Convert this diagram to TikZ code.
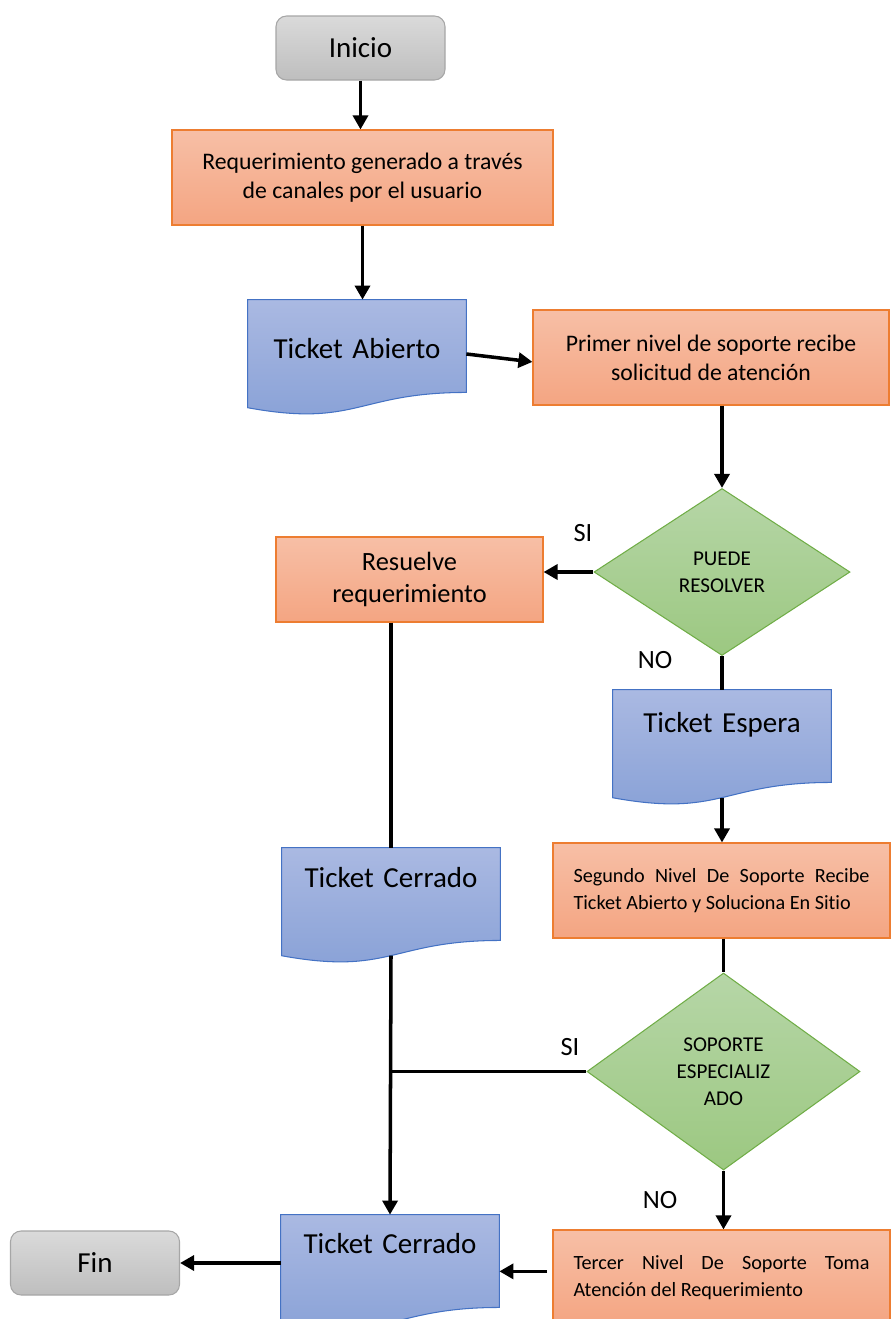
\documentclass[tikz,border=0pt]{standalone}
\usepackage{fontspec}
\setmainfont{Carlito}[Ligatures=NoCommon]
\usepackage{tikz}
\usetikzlibrary{shapes,arrows.meta,positioning,calc,backgrounds}
\definecolor{boxOrange}{RGB}{247,191,166}
\definecolor{boxOrangeDark}{RGB}{244,165,130}
\definecolor{lineOrange}{RGB}{237,125,49}
\definecolor{docBlue}{RGB}{170,185,226}
\definecolor{docBlueDark}{RGB}{135,160,214}
\definecolor{lineBlue}{RGB}{68,114,196}
\definecolor{decGreen}{RGB}{182,214,167}
\definecolor{decGreenDark}{RGB}{156,200,129}
\definecolor{lineGreen}{RGB}{112,173,71}
\definecolor{termGray}{RGB}{218,218,218}
\definecolor{termGrayDark}{RGB}{190,190,190}
\definecolor{lineGray}{RGB}{166,166,166}

% wavy document outline behind a ticket node, plus (name-w) at the middle of the wave
\newcommand{\docwave}[1]{%
  \draw[draw=lineBlue,line width=0.6pt,top color=docBlue,bottom color=docBlueDark]
    (#1.north west) -- (#1.north east)
    -- ($(#1.north east)!0.802!(#1.south east)$)
    .. controls ($(#1.north)!0.802!(#1.south)$) and ($(#1.north)!1.107!(#1.south)$)
    .. ($(#1.north west)!0.934!(#1.south west)$) -- cycle;
  \coordinate (#1-w) at ($(#1.north)!0.933!(#1.south)$);}

\begin{document}
\begin{tikzpicture}[
    term/.style={rounded corners=6pt,draw=lineGray,line width=0.6pt,top color=termGray,bottom color=termGrayDark,
                 minimum width=3.38cm,minimum height=1.28cm,font=\fontsize{16.5}{20}\selectfont},
    proc/.style={draw=lineOrange,line width=0.6pt,top color=boxOrange,bottom color=boxOrangeDark,
                 align=center,font=\fontsize{13.5}{16.4}\selectfont},
    notetext/.style={align=justify,text width=5.92cm,font=\fontsize{11.5}{15.6}\selectfont},
    ticket/.style={inner sep=0pt,text width=4.36cm,align=center,text height=#1,text depth=2.3cm-#1,
                   font=\fontsize{16.5}{20}\selectfont},
    decision/.style={diamond,draw=lineGreen,line width=0.6pt,top color=decGreen,bottom color=decGreenDark,
                     inner sep=0pt,align=center,font=\fontsize{12}{15.3}\selectfont},
    flow/.style={line width=2pt,-{Triangle[length=8pt,width=8.5pt]}},
    link/.style={line width=2pt},
    answer/.style={font=\fontsize{15}{18}\selectfont}
]
    \useasboundingbox (0,0) rectangle (17.8,-26.38);

    \node[term] (inicio) at (7.21,-0.96) {Inicio};
    \node[proc,minimum width=7.62cm,minimum height=1.9cm] (req) at (7.25,-3.55)
        {Requerimiento generado a través\\de canales por el usuario};
    \node[ticket=1.16cm] (abierto) at (7.14,-7.15) {Ticket Abierto};
    \node[proc,minimum width=7.12cm,minimum height=1.9cm] (primer) at (14.22,-7.15)
        {Primer nivel de soporte recibe\\solicitud de atención};
    \node[decision,minimum width=5.12cm,minimum height=3.34cm] (puede) at (14.44,-11.44) {PUEDE\\RESOLVER};
    \node[proc,minimum width=5.34cm,minimum height=1.7cm,font=\fontsize{15}{18}\selectfont] (resuelve) at (8.19,-11.59)
        {Resuelve\\requerimiento};
    \node[ticket=0.84cm] (espera) at (14.44,-14.95) {Ticket Espera};
    \node[proc,notetext,minimum width=6.74cm,minimum height=1.9cm] (segundo) at (14.43,-17.81)
        {Segundo Nivel De Soporte Recibe\linebreak Ticket Abierto y Soluciona En Sitio};
    \node[ticket=0.78cm] (cerrado) at (7.82,-18.11) {Ticket Cerrado};
    \node[decision,minimum width=5.46cm,minimum height=3.94cm] (soporte) at (14.47,-21.43) {SOPORTE\\ESPECIALIZ\\ADO};
    \node[ticket=0.76cm] (cerradofin) at (7.8,-25.45) {Ticket Cerrado};
    \node[proc,notetext,minimum width=6.74cm,minimum height=1.9cm] (tercer) at (14.43,-25.55)
        {Tercer Nivel De Soporte Toma\linebreak Atención del Requerimiento};
    \node[term] (fin) at (1.9,-25.26) {Fin};

    \begin{scope}[on background layer]
        \docwave{abierto}
        \docwave{espera}
        \docwave{cerrado}
        \docwave{cerradofin}
    \end{scope}

    % answers
    \node[answer] (si1) at (11.66,-10.66) {SI};
    \node[answer] (no1) at (13.1,-13.2) {NO};
    \node[answer] (si2) at (11.4,-20.94) {SI};
    \node[answer] (no2) at (13.2,-24.0) {NO};

    \draw[flow] (inicio.south) -- (inicio.south |- req.north);
    \draw[flow] (req.south) -- (req.south |- abierto.north);
    \draw[flow] ([yshift=2pt]abierto.east) -- ([yshift=-2.5pt]primer.west);
    \draw[flow] (puede.north |- primer.south) -- (puede.north);
    \draw[flow] (puede.west) -- (puede.west -| resuelve.east);
    \draw[link] (puede.south) -- (espera.north);
    \draw[flow] (espera-w) -- (espera-w |- segundo.north);
    \draw[link] (resuelve.south -| cerrado.north) -- (cerrado.north);
    \draw[link] (segundo.south -| soporte.north) -- (soporte.north);
    \draw[link] (soporte.west) -- (soporte.west -| cerrado.south);
    \draw[flow] (cerrado-w) -- (cerradofin.north);
    \draw[flow] (soporte.south) -- (soporte.south |- tercer.north);
    \draw[flow] ([shift={(-3pt,3.5pt)}]tercer.west) -- ([yshift=3.5pt]tercer.west -| cerradofin.east);
    \draw[flow] (cerradofin.west |- fin.east) -- (fin.east);
\end{tikzpicture}
\end{document}
